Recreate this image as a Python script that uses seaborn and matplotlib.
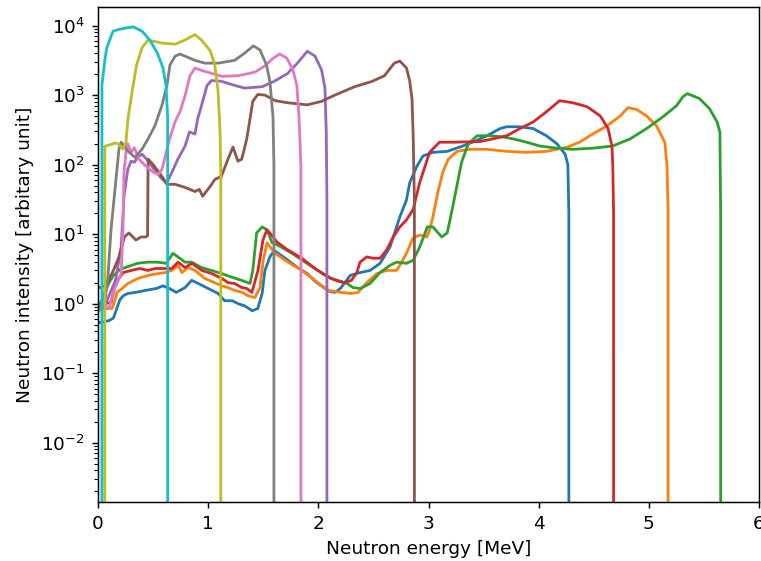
import matplotlib
matplotlib.use("Agg")
import matplotlib.pyplot as plt
import numpy as np
import pandas as pd
import seaborn as sns

# neutron spectra (energy in MeV, intensity in arb. units)
e_c0 = [0.01, 0.1, 0.14, 0.17, 0.2, 0.23, 0.27, 0.34, 0.43, 0.53,
        0.59, 0.65, 0.71, 0.79, 0.85, 0.91, 1.0, 1.09, 1.15, 1.22,
        1.27, 1.33, 1.4, 1.45, 1.49, 1.515, 1.56, 1.6, 1.7, 1.8,
        1.9, 1.97, 2.05, 2.1, 2.15, 2.2, 2.29, 2.38, 2.47, 2.56,
        2.65, 2.74, 2.8, 2.83, 2.895, 2.95, 3.04, 3.17, 3.28, 3.4,
        3.53, 3.65, 3.71, 3.83, 3.95, 4.07, 4.165, 4.24, 4.265, 4.274,
        4.28]
i_c0 = [0.53, 0.57, 0.62, 0.85, 1.15, 1.3, 1.4, 1.45, 1.55, 1.65,
        1.8, 1.65, 1.45, 1.7, 2.16, 1.95, 1.65, 1.4, 1.1, 1.1,
        1.0, 0.93, 0.79, 0.85, 1.4, 3.0, 4.7, 5.8, 4.5, 3.4,
        2.7, 2.1, 1.7, 1.5, 1.45, 1.65, 2.55, 2.8, 3.0, 3.8,
        6.5, 17.7, 31, 55, 95, 133, 150, 155, 178, 210,
        260, 330, 350, 350, 330, 260, 200, 141, 100, 20,
        0]

e_c1 = [0.01, 0.064, 0.127, 0.154, 0.172, 0.218, 0.272, 0.363, 0.454, 0.544,
        0.608, 0.671, 0.726, 0.762, 0.817, 0.88, 0.97, 1.06, 1.125, 1.18,
        1.24, 1.31, 1.36, 1.425, 1.47, 1.5, 1.535, 1.606, 1.725, 1.85,
        1.97, 2.09, 2.21, 2.3, 2.36, 2.44, 2.53, 2.62, 2.71, 2.74,
        2.8, 2.86, 2.92, 2.985, 3.01, 3.04, 3.085, 3.13, 3.18, 3.26,
        3.375, 3.53, 3.71, 3.89, 4.07, 4.26, 4.37, 4.49, 4.62, 4.74,
        4.81, 4.89, 4.98, 5.07, 5.145, 5.165, 5.175, 5.18]
i_c1 = [0.8, 0.85, 0.85, 1.1, 1.45, 1.65, 1.95, 2.3, 2.55, 2.7,
        2.8, 3.0, 3.55, 2.8, 3.3, 3.0, 2.3, 2.0, 1.8, 1.7,
        1.55, 1.45, 1.3, 1.22, 1.7, 4.2, 7.5, 5.3, 3.95, 3.0,
        2.16, 1.55, 1.45, 1.4, 1.45, 2.0, 2.7, 3.0, 3.0, 3.55,
        5.3, 8.8, 9.7, 9.1, 11.5, 17.7, 40, 78, 120, 155,
        166, 166, 155, 150, 155, 178, 210, 275, 360, 500,
        660, 620, 500, 360, 210, 95, 20, 0]

e_c2 = [0.01, 0.05, 0.1, 0.136, 0.2, 0.27, 0.36, 0.45, 0.54, 0.62,
        0.68, 0.725, 0.79, 0.85, 0.94, 1.03, 1.125, 1.215, 1.305, 1.38,
        1.405, 1.44, 1.49, 1.535, 1.58, 1.635, 1.76, 1.88, 1.995, 2.12,
        2.2, 2.26, 2.315, 2.38, 2.47, 2.56, 2.65, 2.71, 2.8, 2.86,
        2.92, 2.99, 3.04, 3.12, 3.17, 3.22, 3.3, 3.36, 3.44, 3.56,
        3.675, 3.77, 3.89, 4.01, 4.165, 4.31, 4.49, 4.67, 4.83, 4.98,
        5.13, 5.25, 5.31, 5.35, 5.46, 5.55, 5.62, 5.645, 5.652, 5.66]
i_c2 = [0.9, 1.3, 2.0, 2.5, 3.1, 3.4, 3.8, 3.95, 3.95, 3.8,
        5.3, 4.7, 3.95, 3.95, 3.3, 3.0, 2.7, 2.4, 2.16, 1.95,
        3.0, 10.4, 12.7, 11.5, 7.5, 6.9, 5.3, 3.95, 3.0, 2.3,
        2.1, 1.95, 1.7, 1.65, 1.95, 2.8, 3.55, 3.95, 3.8, 4.2,
        6.5, 12.7, 12.7, 9.1, 10.4, 24.7, 108, 197, 260, 260,
        250, 234, 210, 185, 172, 166, 172, 185, 234, 330,
        490, 700, 950, 1050, 890, 640, 410, 295, 20, 0]

e_c3 = [0.01, 0.07, 0.12, 0.16, 0.23, 0.3, 0.38, 0.45, 0.52, 0.6,
        0.67, 0.726, 0.79, 0.853, 0.944, 1.034, 1.125, 1.18, 1.24, 1.306,
        1.35, 1.397, 1.452, 1.497, 1.533, 1.56, 1.624, 1.724, 1.85, 1.97,
        2.087, 2.18, 2.24, 2.3, 2.35, 2.378, 2.44, 2.495, 2.56, 2.62,
        2.68, 2.74, 2.8, 2.86, 2.92, 3.01, 3.1, 3.22, 3.47, 3.58,
        3.71, 3.83, 3.95, 4.07, 4.19, 4.31, 4.44, 4.56, 4.63, 4.665,
        4.673, 4.68, 4.69]
i_c3 = [0.9, 1.0, 1.05, 2.0, 2.8, 3.0, 3.2, 3.0, 3.2, 3.2,
        3.2, 3.95, 3.3, 3.8, 3.0, 2.7, 2.3, 2.0, 1.95, 1.7,
        1.65, 1.45, 3.0, 8.2, 11.5, 10.4, 7.7, 5.9, 4.5, 3.2,
        2.4, 2.1, 2.0, 2.16, 2.8, 3.95, 4.7, 4.5, 4.5, 5.9,
        9.1, 12.7, 16, 22.5, 55, 150, 210, 210, 215, 234,
        260, 330, 410, 575, 830, 776, 680, 500, 330, 185,
        95, 20, 0]

e_c4 = [0.01, 0.07, 0.16, 0.21, 0.236, 0.27, 0.3, 0.33, 0.36, 0.4,
        0.45, 0.5, 0.58, 0.625, 0.67, 0.725, 0.79, 0.83, 0.88, 0.905,
        0.94, 0.99, 1.03, 1.12, 1.24, 1.33, 1.49, 1.6, 1.72, 1.81,
        1.9, 1.97, 2.03, 2.06, 2.072, 2.078, 2.083]
i_c4 = [0.9, 1.0, 2.2, 6.5, 35, 85, 112, 108, 128, 141,
        115, 90, 62, 55, 77, 120, 185, 295, 275, 457,
        708, 1380, 1620, 1580, 1380, 1260, 1320, 1580, 2040, 2880,
        4270, 3630, 2290, 1260, 295, 31, 0]

e_c5 = [0.01, 0.07, 0.14, 0.19, 0.24, 0.28, 0.345, 0.39, 0.435, 0.45,
        0.455, 0.5, 0.58, 0.625, 0.7, 0.79, 0.88, 0.92, 0.95, 1.02,
        1.06, 1.12, 1.18, 1.225, 1.27, 1.305, 1.35, 1.38, 1.405, 1.45,
        1.515, 1.61, 1.72, 1.9, 2.03, 2.15, 2.33, 2.49, 2.6, 2.69,
        2.74, 2.8, 2.83, 2.85, 2.86, 2.872, 2.877]
i_c5 = [1.7, 1.8, 3.0, 4.7, 9.1, 10.4, 8.2, 9.1, 9.1, 9.5,
        120, 100, 68, 52, 52, 47, 41, 44, 35, 49,
        61, 68, 120, 179, 112, 120, 234, 457, 813, 1020,
        1000, 830, 776, 724, 813, 1000, 1320, 1580, 1900, 2880,
        3090, 2450, 1580, 891, 295, 31, 0]

e_c6 = [0.01, 0.055, 0.1, 0.145, 0.21, 0.227, 0.236, 0.254, 0.27, 0.3,
        0.33, 0.37, 0.435, 0.5, 0.545, 0.58, 0.61, 0.65, 0.7, 0.744,
        0.79, 0.835, 0.88, 0.97, 1.125, 1.27, 1.425, 1.515, 1.59, 1.65,
        1.715, 1.77, 1.805, 1.824, 1.842, 1.847]
i_c6 = [0.9, 0.93, 0.87, 1.55, 2.7, 11.5, 77, 151, 200, 150,
        175, 120, 95, 78, 72, 85, 130, 234, 415, 575,
        980, 1900, 2450, 2190, 1860, 1900, 2140, 2630, 3390, 3900,
        3390, 2290, 1380, 500, 95, 0]

e_c7 = [0.01, 0.055, 0.09, 0.118, 0.163, 0.19, 0.21, 0.27, 0.336, 0.4,
        0.454, 0.517, 0.58, 0.626, 0.653, 0.7, 0.744, 0.88, 0.97, 1.09,
        1.24, 1.33, 1.41, 1.47, 1.53, 1.56, 1.588, 1.597, 1.602]
i_c7 = [0.9, 0.87, 2.4, 11.5, 61, 167, 210, 157, 127, 167,
        234, 363, 708, 1380, 2700, 3630, 3900, 3160, 2880, 2880,
        3160, 4000, 5100, 4470, 2700, 1580, 500, 95, 0]

e_c8 = [0.055, 0.062, 0.07, 0.16, 0.19, 0.227, 0.254, 0.272, 0.31, 0.35,
        0.4, 0.454, 0.58, 0.7, 0.79, 0.88, 0.94, 1.02, 1.06, 1.09,
        1.108, 1.115, 1.12]
i_c8 = [0, 185, 185, 205, 195, 167, 210, 457, 1130, 2700,
        4800, 6200, 5600, 5400, 6200, 7400, 6200, 4300, 2700, 1130,
        295, 68, 0]

e_c9 = [0.03, 0.036, 0.06, 0.08, 0.136, 0.2, 0.32, 0.4, 0.47, 0.54,
        0.59, 0.617, 0.632, 0.638]
i_c9 = [0, 1400, 3000, 4800, 8300, 8900, 9600, 8300, 6200, 4000,
        2450, 1380, 500, 0]

spectra = ['C0', 'C1', 'C2', 'C3', 'C4', 'C5', 'C6', 'C7', 'C8', 'C9']
energies = [e_c0, e_c1, e_c2, e_c3, e_c4, e_c5, e_c6, e_c7, e_c8, e_c9]
intensities = [i_c0, i_c1, i_c2, i_c3, i_c4, i_c5, i_c6, i_c7, i_c8, i_c9]

frames = []
for name, e, i in zip(spectra, energies, intensities):
    frames.append(pd.DataFrame({'energy': e, 'intensity': i, 'spectrum': name}))
df = pd.concat(frames, ignore_index=True)

dpi = 133.5
fig, ax = plt.subplots(figsize=(761 / dpi, 561 / dpi), dpi=dpi)
sns.lineplot(data=df, x='energy', y='intensity', hue='spectrum',
             palette='tab10', estimator=None, legend=False, linewidth=1.5, ax=ax)

ax.set_yscale('log')
ax.set_xlim(0, 6)
ax.set_ylim(1.4e-3, 1.85e4)
ax.set_xlabel('Neutron energy [MeV]')
ax.set_ylabel('Neutron intensity [arbitary unit]')

fig.subplots_adjust(left=98 / 761, right=759 / 761, bottom=1 - 502 / 561, top=1 - 7 / 561)
fig.savefig('out.png', dpi=dpi)
